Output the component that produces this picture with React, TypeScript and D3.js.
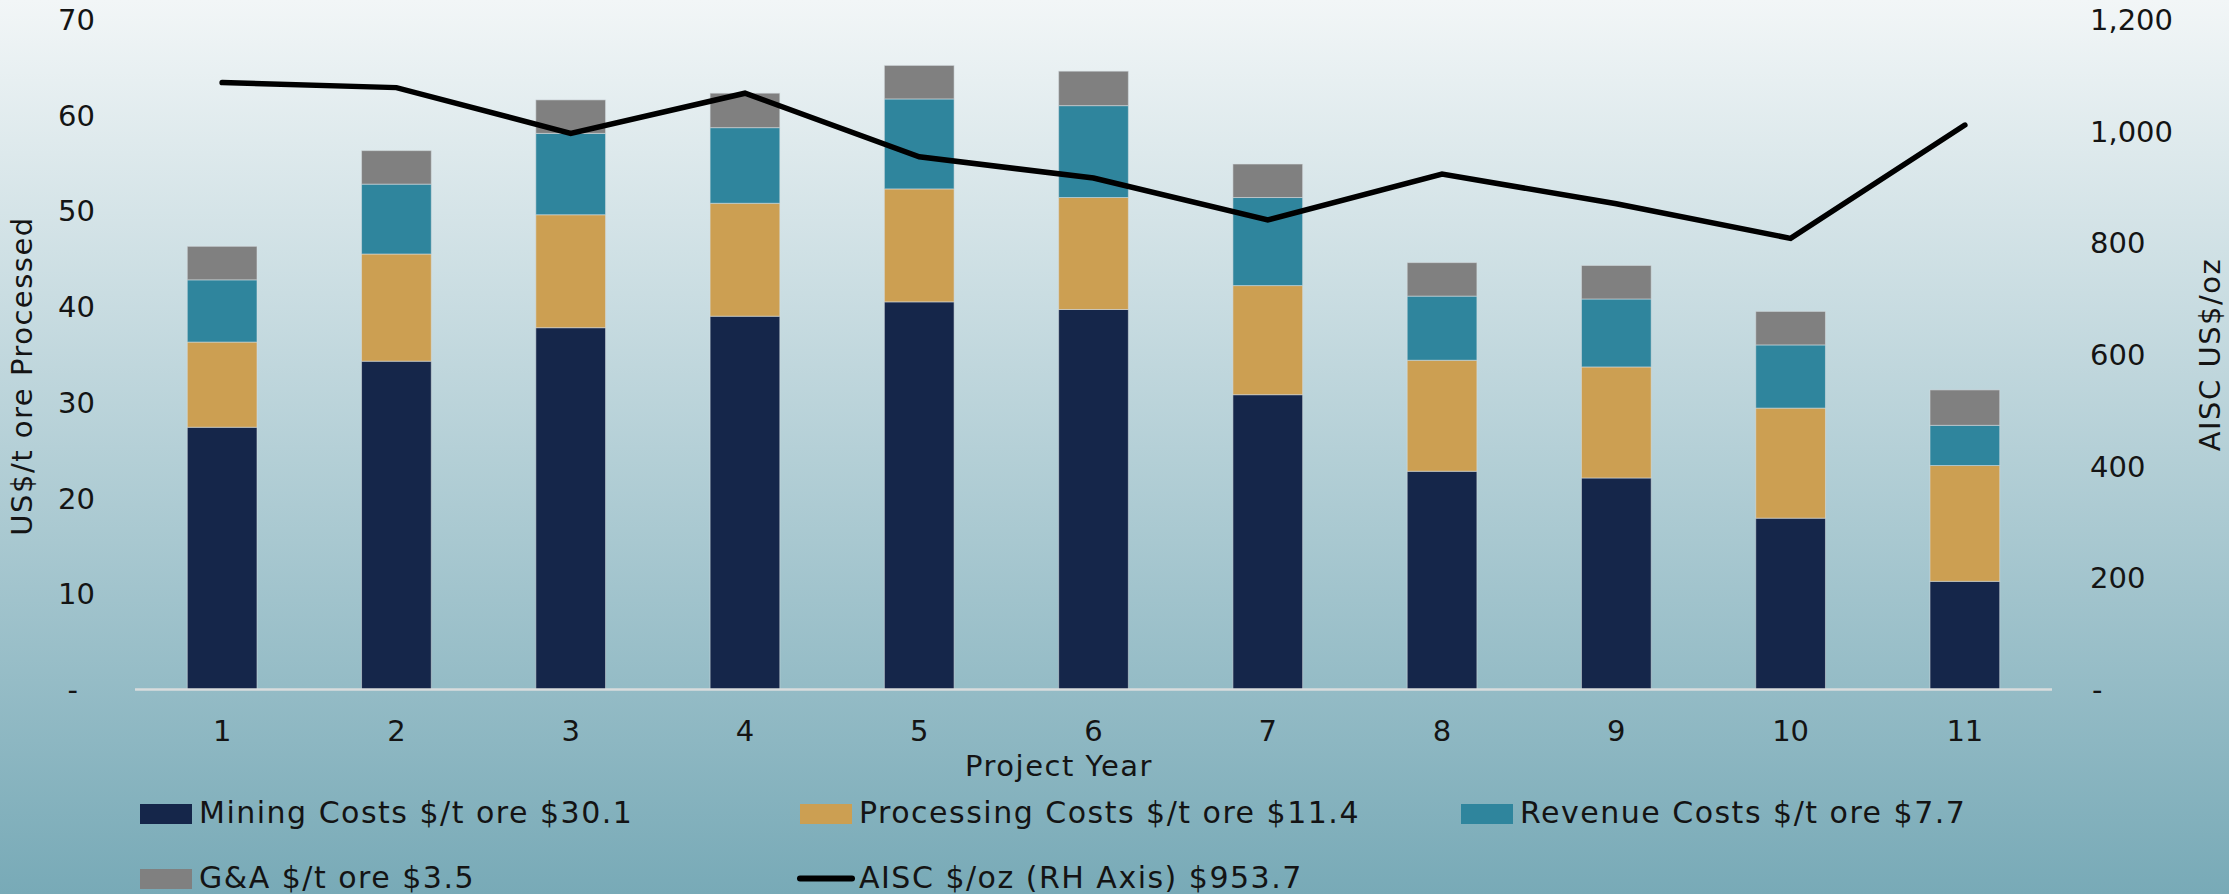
import * as d3 from "d3";

const years = ["1", "2", "3", "4", "5", "6", "7", "8", "9", "10", "11"];
const mining = [27.4, 34.3, 37.8, 39.0, 40.5, 39.7, 30.8, 22.8, 22.1, 17.9, 11.3];
const processing = [8.9, 11.2, 11.8, 11.8, 11.8, 11.7, 11.4, 11.6, 11.6, 11.5, 12.1];
const revenue = [6.5, 7.3, 8.5, 7.9, 9.4, 9.6, 9.2, 6.7, 7.1, 6.6, 4.2];
const gna = [3.5, 3.5, 3.5, 3.6, 3.5, 3.6, 3.5, 3.5, 3.5, 3.5, 3.7];
const aisc = [1087, 1078, 996, 1068, 954, 916, 841, 923, 870, 808, 1011];

const leftTicks = [0, 10, 20, 30, 40, 50, 60, 70];
const rightTicks = [0, 200, 400, 600, 800, 1000, 1200];

const seriesNames = [
  "Mining Costs $/t ore $30.1",
  "Processing Costs $/t ore $11.4",
  "Revenue Costs $/t ore $7.7",
  "G&A $/t ore $3.5",
];
const lineName = "AISC $/oz (RH Axis) $953.7";
const colors = ["#15264a", "#cc9f52", "#2f859d", "#808080"];

const W = 2229;
const H = 894;
const FONT = "'DejaVu Sans', sans-serif";
const INK = "#141414";

export default function App() {
  const x = d3.scaleBand<string>().domain(years).range([135, 2052]).paddingInner(0.6).paddingOuter(0.3);
  const yL = d3.scaleLinear().domain([0, 70]).range([689.5, 19.5]);
  const yR = d3.scaleLinear().domain([0, 1200]).range([689.5, 19.5]);

  const table = years.map((yr, i) => ({
    year: yr,
    mining: mining[i],
    processing: processing[i],
    revenue: revenue[i],
    gna: gna[i],
  }));
  const stack = d3.stack<any>().keys(["mining", "processing", "revenue", "gna"])(table);

  const line = d3
    .line<number>()
    .x((_, i) => x(years[i])! + x.bandwidth() / 2)
    .y((d) => yR(d));

  const fmt = d3.format(",");

  // legend slots: [col x, row y]
  const legendPos = [
    [140, 804],
    [800, 804],
    [1461, 804],
    [140, 869],
  ];

  return (
    <svg
      width={W}
      height={H}
      style={{ position: "absolute", left: 0, top: 0, display: "block" }}
      fontFamily={FONT}
    >
      <defs>
        <linearGradient id="bg" x1="0" y1="0" x2="0" y2="1">
          <stop offset="0" stopColor="#f2f6f7" />
          <stop offset="1" stopColor="#78aab7" />
        </linearGradient>
      </defs>
      <rect width={W} height={H} fill="url(#bg)" />

      {/* bars */}
      {stack.map((layer, si) => (
        <g key={si} fill={colors[si]}>
          {layer.map((d, i) => (
            <rect
              key={i}
              x={x(years[i])}
              y={yL(d[1])}
              width={x.bandwidth()}
              height={yL(d[0]) - yL(d[1])}
              stroke="rgba(215,222,226,0.55)"
              strokeWidth={1}
            />
          ))}
        </g>
      ))}

      {/* base axis */}
      <line x1={135} x2={2052} y1={yL(0)} y2={yL(0)} stroke="#d9dcdd" strokeWidth={2.5} />

      {/* AISC line */}
      <path
        d={line(aisc)!}
        fill="none"
        stroke="#000"
        strokeWidth={5.5}
        strokeLinecap="round"
        strokeLinejoin="miter"
      />

      {/* left ticks */}
      {leftTicks.map((t) => (
        <text
          key={t}
          x={t === 0 ? 78 : 95}
          y={yL(t)}
          dy="0.36em"
          textAnchor="end"
          fontSize={29}
          fill={INK}
        >
          {t === 0 ? "-" : t}
        </text>
      ))}

      {/* right ticks */}
      {rightTicks.map((t) => (
        <text
          key={t}
          x={t === 0 ? 2092 : 2090}
          y={yR(t)}
          dy="0.36em"
          textAnchor="start"
          fontSize={29}
          fill={INK}
        >
          {t === 0 ? "-" : fmt(t)}
        </text>
      ))}

      {/* x ticks */}
      {years.map((yr) => (
        <text
          key={yr}
          x={x(yr)! + x.bandwidth() / 2}
          y={741}
          textAnchor="middle"
          fontSize={29}
          fill={INK}
        >
          {yr}
        </text>
      ))}

      <text x={1059} y={776} textAnchor="middle" fontSize={29} letterSpacing={1.5} fill={INK}>
        Project Year
      </text>

      <text
        transform="translate(32,376) rotate(-90)"
        textAnchor="middle"
        fontSize={29}
        letterSpacing={1.5}
        fill={INK}
      >
        US$/t ore Processed
      </text>
      <text
        transform={`translate(2220,${(yR(0) + yR(1200)) / 2}) rotate(-90)`}
        textAnchor="middle"
        fontSize={29}
        letterSpacing={1.5}
        fill={INK}
      >
        AISC US$/oz
      </text>

      {/* legend */}
      {seriesNames.map((name, i) => (
        <g key={name} transform={`translate(${legendPos[i][0]},${legendPos[i][1]})`}>
          <rect width={52} height={20} fill={colors[i]} />
          <text x={59} y={19} fontSize={30} letterSpacing={1.5} fill={INK}>
            {name}
          </text>
        </g>
      ))}
      <g transform="translate(800,869)">
        <line x1={0} x2={52} y1={9.5} y2={9.5} stroke="#000" strokeWidth={6} strokeLinecap="round" />
        <text x={59} y={19} fontSize={30} letterSpacing={1.5} fill={INK}>
          {lineName}
        </text>
      </g>
    </svg>
  );
}
